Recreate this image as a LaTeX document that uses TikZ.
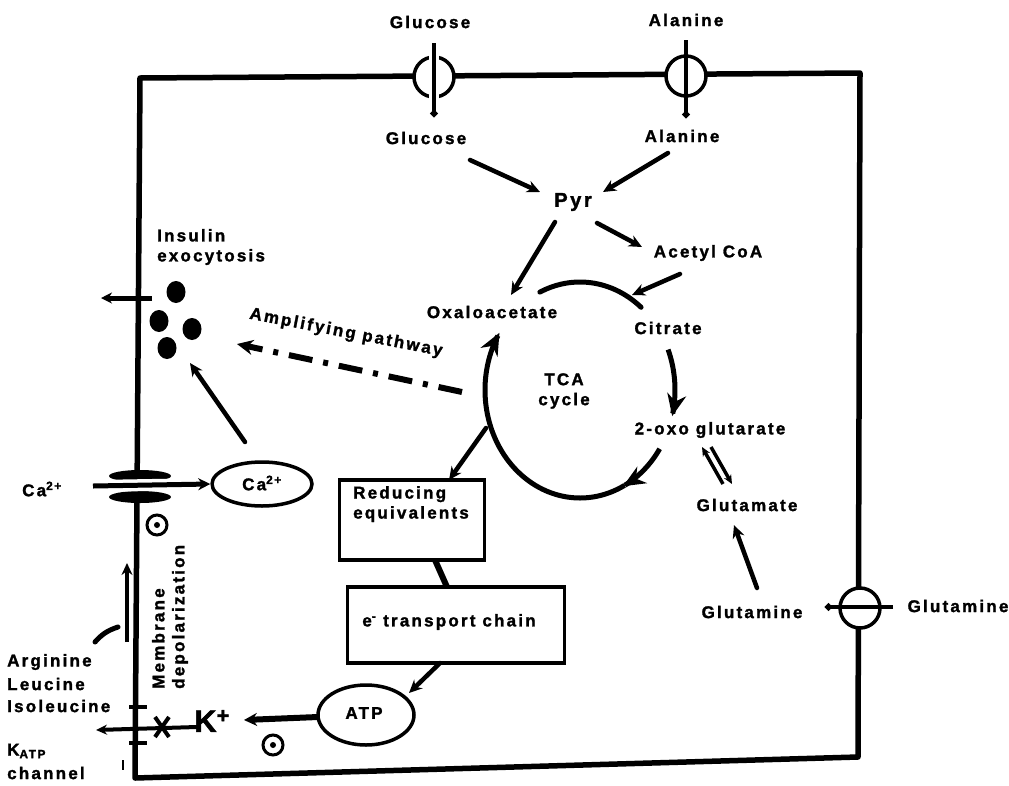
\documentclass[tikz,border=0pt]{standalone}
\usepackage{fontspec}
\setmainfont{Liberation Sans}[LetterSpace=13, BoldFont={Liberation Sans Bold}, BoldFeatures={FakeBold=1.6, LetterSpace=13}]
\usetikzlibrary{arrows.meta,shapes.geometric,calc}
\begin{document}
\begin{tikzpicture}[x=1pt,y=-1pt,
  lab/.style={font=\fontsize{17}{20}\selectfont\bfseries, inner sep=1pt},
  wall/.style={line width=5.5pt, line join=round},
  arr/.style={line width=4.5pt, line cap=round, -{Stealth[length=13pt,width=12pt]}},
  bigarr/.style={line width=5pt, -{Stealth[length=22pt,width=19pt]}},
  plain/.style={line width=5pt, line cap=round},
  dotend/.style={line width=4pt, -{Circle[length=7pt,width=7pt]}},
  ves/.style={fill=black, ellipse, inner sep=0pt, minimum width=19pt, minimum height=22pt},
  boxn/.style={draw, line width=3.5pt, rectangle, inner sep=0pt},
  oval/.style={draw, line width=3.5pt, ellipse, inner sep=0pt},
  tport/.style={draw, circle, fill=white, line width=3.5pt, minimum size=40pt, inner sep=0pt},
  odot/.style={draw, circle, line width=3pt, minimum size=20pt, inner sep=0pt}
]
\useasboundingbox (0,0) rectangle (1009,785);
% cell membrane
\draw[wall] (140,78) -- (860,73) -- (858,757) -- (135,778) -- cycle;

% ---------- transporters ----------
\node[lab] (glcO) at (430,22) {Glucose};
\node[tport] (glcT) at (434,77) {};
\draw[white, line width=10pt] (434,55) -- (434,99);
\coordinate (glcTop) at (434,43);
\coordinate (glcBot) at (434,117);
\draw[dotend] (glcTop) -- (glcBot);

\node[lab] (alaO) at (686,20) {Alanine};
\node[tport] (alaT) at (686,76) {};
\coordinate (alaTop) at (686,40);
\coordinate (alaBot) at (686,118);
\draw[dotend] (alaTop) -- (alaBot);

\node[lab] (glnO) at (958,606) {Glutamine};
\node[tport] (glnT) at (860,608) {};
\coordinate (glnR) at (893,607);
\coordinate (glnL) at (825,607);
\draw[dotend] (glnR) -- (glnL);

% ---------- metabolites ----------
\node[lab] (glcI) at (426,138) {Glucose};
\node[lab] (alaI) at (682,136) {Alanine};
\node[lab, font=\fontsize{20}{22}\selectfont\bfseries] (pyr) at (573,202) {Pyr};
\node[lab] (acoa) at (708,253) {Acetyl CoA};
\node[lab] (oaa) at (492,312) {Oxaloacetate};
\node[lab] (cit) at (668,328) {Citrate};
\node[lab, align=center] (tca) at (564,391) {TCA\\cycle};
\node[lab] (oxo) at (710,430) {2-oxo glutarate};
\node[lab] (glu) at (747,505) {Glutamate};
\node[lab] (glnI) at (752,612) {Glutamine};

\coordinate (a1s) at (470,160); \coordinate (a1e) at (540,192);
\draw[arr] (a1s) -- (a1e);
\coordinate (a2s) at (668,153); \coordinate (a2e) at (603,192);
\draw[arr] (a2s) -- (a2e);
\coordinate (a3s) at (597,223); \coordinate (a3e) at (642,247);
\draw[arr] (a3s) -- (a3e);
\coordinate (a4s) at (555,222); \coordinate (a4e) at (511,295);
\draw[arr] (a4s) -- (a4e);
\coordinate (a5s) at (680,274); \coordinate (a5e) at (632,295);
\draw[arr] (a5s) -- (a5e);

% TCA cycle ring
\draw[plain] plot[domain=-115:-50, samples=30, smooth] ({580+95*cos(\x)},{390+108*sin(\x)});
\draw[bigarr] plot[domain=-22:14, samples=20, smooth] ({580+95*cos(\x)},{390+108*sin(\x)});
\draw[bigarr] plot[domain=33:63, samples=20, smooth] ({580+95*cos(\x)},{390+108*sin(\x)});
\draw[bigarr] plot[domain=62:212, samples=60, smooth] ({580+95*cos(\x)},{390+108*sin(\x)});

% 2-oxo glutarate <-> glutamate
\coordinate (d1s) at (723,484); \coordinate (d1e) at (702,447);
\draw[line width=3.5pt, -{Stealth[length=9pt,width=8pt]}] (d1s) -- (d1e);
\coordinate (d2s) at (711,447); \coordinate (d2e) at (732,484);
\draw[line width=3.5pt, -{Stealth[length=9pt,width=8pt]}] (d2s) -- (d2e);
\coordinate (g1s) at (757,588); \coordinate (g1e) at (734,525);
\draw[arr] (g1s) -- (g1e);

% ---------- energy chain ----------
\node[boxn, minimum width=145pt, minimum height=80pt] (red) at (412,520) {};
\node[lab, anchor=north west, align=left] (redt) at (352,485) {Reducing\\equivalents};
\node[boxn, minimum width=217pt, minimum height=76pt] (etc) at (456,625) {};
\node[lab] (etct) at (449,622) {e\textsuperscript{-} transport chain};
\node[oval, minimum width=96pt, minimum height=60pt] (atp) at (366,715) {};
\node[lab] (atpt) at (364,713) {ATP};

\coordinate (r1s) at (486,428); \coordinate (r1e) at (449,480);
\draw[arr] (r1s) -- (r1e);
\coordinate (r2s) at (435,560); \coordinate (r2e) at (447,587);
\draw[line width=6pt] (r2s) -- (r2e);
\coordinate (r3s) at (440,663); \coordinate (r3e) at (409,693);
\draw[arr] (r3s) -- (r3e);

% ---------- K_ATP channel ----------
\node[lab, font=\fontsize{31}{33}\selectfont\bfseries] (kp) at (212,721) {K\textsuperscript{+}};
\coordinate (k1s) at (318,717); \coordinate (k1e) at (244,720);
\draw[line width=6pt, -{Stealth[length=13pt,width=13pt]}] (k1s) -- (k1e);
\coordinate (kx) at (162,727);
\coordinate (kcs) at (197,727); \coordinate (kce) at (96,730);
\draw[line width=4pt, -{Stealth[length=11pt,width=10pt]}] (kcs) -- (kce);
\draw[line width=4pt] ($(kx)+(-7,-10)$) -- ($(kx)+(7,10)$);
\draw[line width=4pt] ($(kx)+(7,-10)$) -- ($(kx)+(-7,10)$);
\draw[line width=4pt] (129,707) -- (147,707);
\draw[line width=4pt] (129,743) -- (147,743);
\draw[line width=2.5pt] (123,760) -- (123,770);
\node[odot] (od2) at (273,745) {};
\fill (od2.center) circle (3pt);

\node[lab, anchor=west] (arg) at (6,662) {Arginine};
\node[lab, anchor=west] (leu) at (6,684) {Leucine};
\node[lab, anchor=west] (ile) at (6,706) {Isoleucine};
\node[lab, anchor=west] (katp) at (6,751) {K\textsubscript{ATP}};
\node[lab, anchor=west] (chan) at (6,773) {channel};

\coordinate (dp1) at (127,642); \coordinate (dp2) at (127,563);
\draw[line width=4pt, -{Stealth[length=12pt,width=11pt]}] (dp1) -- (dp2);
\coordinate (cv1) at (95,642); \coordinate (cv2) at (118,627);
\draw[line width=5pt, line cap=round] (cv1) to[bend left=15] (cv2);
\node[lab, rotate=90, anchor=west, align=left] (memb) at (170,690) {Membrane\\depolarization};

% ---------- Ca channel ----------
\fill (140,476) ellipse [x radius=31, y radius=6];
\fill (140,497) ellipse [x radius=31, y radius=6];
\node[lab] (caO) at (42,489) {Ca\textsuperscript{2+}};
\node[oval, minimum width=100pt, minimum height=44pt] (caI) at (262,484) {};
\node[lab] (caIt) at (262,483) {Ca\textsuperscript{2+}};
\coordinate (cas) at (93,486);
\draw[white, line width=12pt] (cas) -- (caI.west);
\draw[line width=5pt, -{Stealth[length=12pt,width=12pt]}] (cas) -- (caI.west);
\node[odot] (od1) at (157,525) {};
\fill (od1.center) circle (3pt);

% ---------- insulin ----------
\node[lab, anchor=west, align=left] (ins) at (156,247) {Insulin\\exocytosis};
\node[ves] (v1) at (176,292) {};
\node[ves] (v2) at (159,321) {};
\node[ves] (v3) at (192,329) {};
\node[ves] (v4) at (167,348) {};
\coordinate (ex1) at (152,298); \coordinate (ex2) at (101,298);
\draw[line width=5pt, -{Stealth[length=11pt,width=11pt]}] (ex1) -- (ex2);
\coordinate (cv3) at (245,442); \coordinate (cv4) at (190,363);
\draw[arr] (cv3) -- (cv4);

% amplifying pathway
\node[lab, rotate=-11] (amp) at (346,333) {Amplifying pathway};
\coordinate (am1) at (462,392); \coordinate (am2) at (237,344);
\draw[line width=6pt, dash pattern=on 24pt off 11pt on 5pt off 11pt, -{Stealth[length=16pt,width=15pt]}] (am1) -- (am2);
\end{tikzpicture}
\end{document}
